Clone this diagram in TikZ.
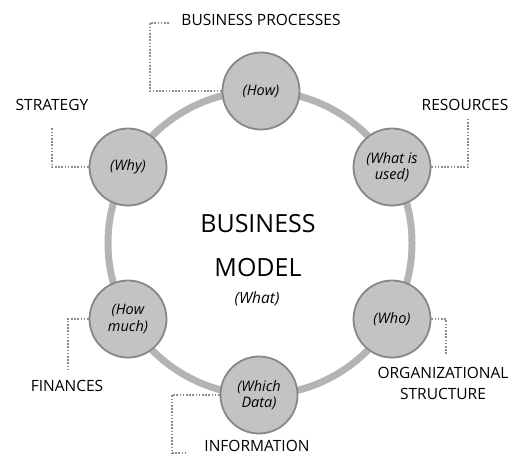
\documentclass[tikz,border=0pt]{standalone}
\usepackage{fontspec}
\setmainfont{Open Sans}
\usetikzlibrary{backgrounds}
\definecolor{ringc}{HTML}{B4B4B4}
\definecolor{nodefill}{HTML}{C3C3C3}
\definecolor{nodeborder}{HTML}{878787}
\definecolor{dotc}{HTML}{8C8C8C}
\begin{document}
\begin{tikzpicture}[x=1pt,y=-1pt,
  hub/.style={circle, fill=nodefill, draw=nodeborder, line width=1.8pt, minimum size=77pt, inner sep=0pt, align=center, font=\fontsize{14.5}{16.5}\selectfont\itshape},
  lbl/.style={font=\fontsize{15.5}{21}\selectfont, inner sep=0pt, align=center},
  dots/.style={draw=dotc, line width=2pt, dash pattern=on 1.6pt off 1.6pt}]
\useasboundingbox (0,0) rectangle (513,455);
% ring
\draw[ringc, line width=7pt] (260,243) circle[radius=152pt];
% hub nodes
\node[hub] (how)  at (261,91)  {(How)};
\node[hub] (used) at (392,167) {(What is\\used)};
\node[hub] (who)  at (392,319) {(Who)};
\node[hub] (data) at (259,395) {(Which\\Data)};
\node[hub] (much) at (128,319) {(How\\much)};
\node[hub] (why)  at (128,167) {(Why)};
% labels
\node[lbl] (bpl) at (261,20)  {BUSINESS PROCESSES};
\node[lbl] (stl) at (52,105)  {STRATEGY};
\node[lbl] (rel) at (465,105) {RESOURCES};
\node[lbl] (fil) at (67,386)  {FINANCES};
\node[lbl] (inl) at (257,446) {INFORMATION};
\node[lbl] (orl) at (443,383) {ORGANIZATIONAL\\STRUCTURE};
% centre
\node[font=\fontsize{25}{30}\selectfont, inner sep=0pt] (bm1) at (258,224) {BUSINESS};
\node[font=\fontsize{25}{30}\selectfont, inner sep=0pt] (bm2) at (258,268) {MODEL};
\node[font=\fontsize{15.5}{18}\selectfont\itshape, inner sep=0pt] (what) at (257,299) {(What)};
% dotted connectors
\coordinate (bpK) at (150,23);
\coordinate (bpA) at (170,23);
\coordinate (stA) at (52,128);
\coordinate (reA) at (468,118);
\coordinate (fiA) at (68,370);
\coordinate (inA) at (172,453);
\coordinate (inB) at (187,453);
\coordinate (orA) at (446,355);
\begin{scope}[on background layer]
\draw[dots] (how.west) -| (bpK) -- (bpA);
\draw[dots] (why.west) -| (stA);
\draw[dots] (used.east) -| (reA);
\draw[dots] (much.west) -| (fiA);
\draw[dots] (data.west) -| (inA) -- (inB);
\draw[dots] (who.east) -| (orA);
\end{scope}
\end{tikzpicture}
\end{document}
